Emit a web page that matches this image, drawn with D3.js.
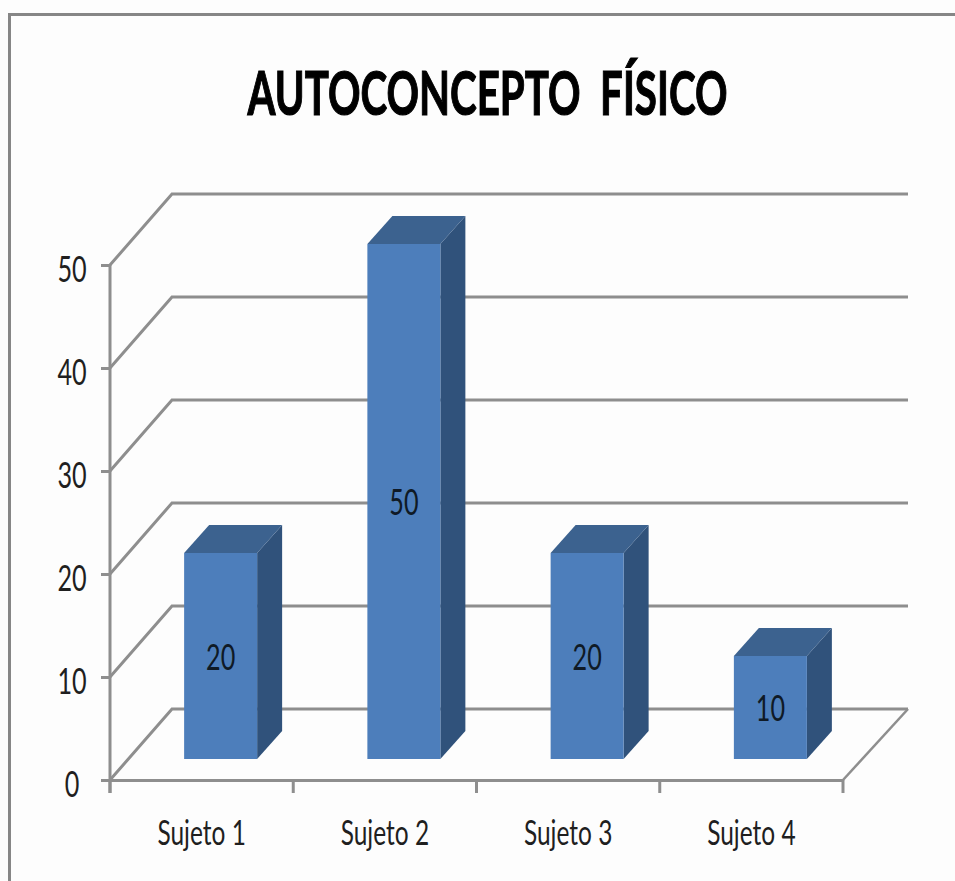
<!DOCTYPE html>
<html>
<head>
<meta charset="utf-8">
<script src="https://cdn.jsdelivr.net/npm/d3@7/dist/d3.min.js"></script>
<style>
html,body{margin:0;padding:0;background:#fff}
svg{display:block}
text{font-family:"Lato","Open Sans",sans-serif}
</style>
</head>
<body>
<script>
const chartTitle = "AUTOCONCEPTO  FÍSICO";
const categories = ["Sujeto 1", "Sujeto 2", "Sujeto 3", "Sujeto 4"];
const values = [20, 50, 20, 10];
const yTicks = [0, 10, 20, 30, 40, 50];

const W = 955, H = 881;
const gridColor = "#8e8e8e";
const faceFront = "#4d7ebb", faceTop = "#3c628f", faceSide = "#30527b";

// Oblique projection of the chart box
const wallDx = 62, wallDy = -71;
const barInsetDx = 19, barInsetDy = -21;
const barDepthDx = 25, barDepthDy = -28;
const barWidth = 73;

const svg = d3.select("body").append("svg").attr("width", W).attr("height", H);
svg.append("rect").attr("width", W).attr("height", H).attr("fill", "#fdfdfd");

// Outer chart frame, open at the right and bottom edges
svg.append("path").attr("d", `M9.5,${H}V14.5H${W}`)
  .attr("fill", "none").attr("stroke", "#868686").attr("stroke-width", 3);

const x = d3.scaleBand().domain(categories).range([110, 843]);
const y = d3.scaleLinear().domain([0, 50]).range([780, 265]);

// Floor and side wall, plus the back wall gridlines
const grid = svg.append("g").attr("fill", "none").attr("stroke", gridColor)
  .attr("stroke-width", 3);
grid.selectAll("path.level").data(yTicks).join("path").attr("class", "level")
  .attr("d", d => `M${x.range()[0]},${y(d)}l${wallDx},${wallDy}H${x.range()[1] + wallDx + 3}`);
grid.append("path")
  .attr("d", `M${x.range()[1]},${y(0)}l${wallDx + 3},${wallDy}`)
  .attr("stroke-width", 2.5);

// Axes
const yAxis = d3.axisLeft(y).tickValues(yTicks).tickSize(9).tickPadding(8);
const xAxis = d3.axisBottom(x).tickSize(0).tickPadding(0);

const gy = svg.append("g").attr("transform", `translate(${x.range()[0]},0)`).call(yAxis);
gy.select(".domain").attr("stroke", gridColor).attr("stroke-width", 3)
  .attr("d", `M0,${y(50)}V${y(0) + 13}`);
gy.selectAll(".tick line").attr("stroke", gridColor).attr("stroke-width", 3);
gy.selectAll(".tick text").attr("font-size", 36).attr("fill", "#1f1f1f")
  .attr("text-anchor", "middle").attr("dy", "0.36em")
  .attr("transform", "translate(-38,4) scale(0.7,1)").attr("x", 0);

const gx = svg.append("g").attr("transform", `translate(0,${y(0)})`).call(xAxis);
gx.select(".domain").attr("stroke", gridColor).attr("stroke-width", 3);
gx.selectAll(".tick line").remove();
gx.selectAll(".tick text").attr("font-size", 34).attr("fill", "#1f1f1f")
  .attr("y", 0).attr("dy", 0)
  .attr("transform", "translate(0,65) scale(0.72,1)");

// Boundary ticks between categories
const edges = categories.map(c => x(c)).concat(x.range()[1]);
svg.append("g").selectAll("line").data(edges).join("line")
  .attr("x1", d => d).attr("x2", d => d)
  .attr("y1", y(0)).attr("y2", y(0) + 13)
  .attr("stroke", gridColor).attr("stroke-width", 3);

// Extruded bars
const bars = svg.append("g").selectAll("g").data(categories.map((c, i) => ({c, v: values[i]})))
  .join("g")
  .attr("transform", d =>
    `translate(${x(d.c) + x.bandwidth() / 2 + barInsetDx - barWidth / 2},${y(0) + barInsetDy})`);
const barH = d => y(0) - y(d.v);

bars.append("path").attr("fill", faceSide)
  .attr("d", d => `M${barWidth},0V${-barH(d)}l${barDepthDx},${barDepthDy}V${barDepthDy}Z`);
bars.append("path").attr("fill", faceTop)
  .attr("d", d => `M0,${-barH(d)}l${barDepthDx},${barDepthDy}h${barWidth}l${-barDepthDx},${-barDepthDy}Z`);
bars.append("rect").attr("fill", faceFront)
  .attr("width", barWidth).attr("y", d => -barH(d)).attr("height", barH);

bars.append("text").text(d => d.v)
  .attr("font-size", 36).attr("fill", "#0f1a26").attr("text-anchor", "middle")
  .attr("dy", "0.36em")
  .attr("transform", d => `translate(${barWidth / 2},${-barH(d) / 2 + 1}) scale(0.7,1)`);

// Title
svg.append("text").text(chartTitle)
  .attr("font-size", 62).attr("font-weight", 700).attr("fill", "#000")
  .attr("stroke", "#000").attr("stroke-width", 1.2)
  .attr("text-anchor", "middle")
  .style("white-space", "pre")
  .attr("transform", "translate(487.5,115) scale(0.65,1)");
</script>
</body>
</html>
